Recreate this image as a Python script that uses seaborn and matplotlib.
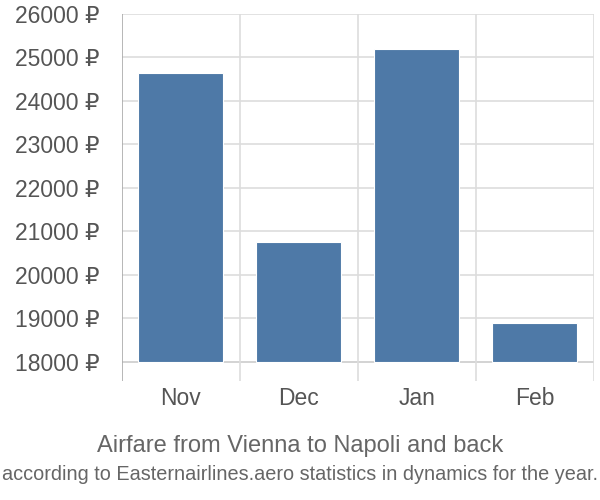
import matplotlib
matplotlib.use("Agg")
import matplotlib.pyplot as plt
import seaborn as sns
import pandas as pd

# Data
months = ["Nov", "Dec", "Jan", "Feb"]
fares = [24640, 20750, 25200, 18900]
base = 18000
yticks = [18000, 19000, 20000, 21000, 22000, 23000, 24000, 25000, 26000]

df = pd.DataFrame({"month": months, "fare": fares})

sns.set_style("white")
plt.rcParams["font.family"] = ["Liberation Sans", "DejaVu Sans"]

fig = plt.figure(figsize=(6, 5), dpi=100)
ax = fig.add_axes([0.203, 0.238, 0.787, 0.734])

sns.barplot(data=df, x="month", y="fare", color="#4e79a7", saturation=1,
            width=0.72, ax=ax, zorder=3)

# bars start at the base value, not at the bottom of the axis
for patch, v in zip(ax.patches, fares):
    patch.set_y(base)
    patch.set_height(v - base)
    patch.set_edgecolor("white")
    patch.set_linewidth(0.8)

ax.set_ylim(17563, 26000)
ax.set_xlim(-0.5, len(months) - 0.5)
ax.set_yticks(yticks)
ax.set_yticklabels([f"{t} ₽" for t in yticks])

# horizontal grid lines at the ticks
for t in yticks:
    ax.axhline(t, color="#cccccc" if t == base else "#dddddd", lw=1.2, zorder=1)
# vertical separators between categories
for i in range(len(months) + 1):
    ax.axvline(i - 0.5, color="#aaaaaa" if i == 0 else "#dddddd", lw=1.2, zorder=1)

for s in ax.spines.values():
    s.set_visible(False)

ax.tick_params(axis="y", length=14, color="#dddddd", width=1.2, pad=2,
               labelsize=16.5, labelcolor="#555555")
ax.tick_params(axis="x", length=0, pad=4, labelsize=16.5, labelcolor="#555555")
ax.set_xlabel("")
ax.set_ylabel("")

fig.text(0.5, 0.108, "Airfare from Vienna to Napoli and back", ha="center",
         va="center", fontsize=17, color="#666666")
fig.text(0.5, 0.05, "according to Easternairlines.aero statistics in dynamics for the year.",
         ha="center", va="center", fontsize=14.3, color="#666666")

fig.savefig("out.png", dpi=100)
